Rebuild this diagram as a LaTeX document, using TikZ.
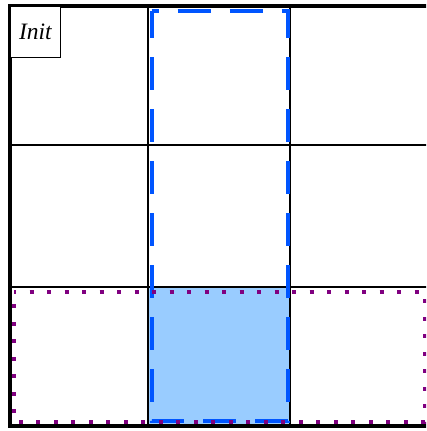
\documentclass[tikz,border=0pt]{standalone}
\usepackage{fontspec}
\setmainfont{Liberation Serif}
\begin{document}
\begin{tikzpicture}[x=1pt,y=-1pt,
  gridline/.style={line width=2.2pt,black},
  frameline/.style={line width=4pt,black},
  zonedash/.style={draw=zoneblue,line width=4pt,dash pattern=on 33pt off 19pt,dash phase=26pt},
  rowdots/.style={draw=rowpurple,line width=4pt,dash pattern=on 4pt off 13.5pt,dash phase=2pt},
  labelbox/.style={draw,line width=0.8pt,fill=white,inner sep=0pt,
    minimum width=50pt,minimum height=51pt,font=\fontsize{23.5}{26}\selectfont\itshape}]
\definecolor{zoneblue}{RGB}{0,85,255}
\definecolor{zonefill}{RGB}{153,204,255}
\definecolor{rowpurple}{RGB}{128,0,128}
\useasboundingbox (0,0) rectangle (426,431);
\fill[white] (0,0) rectangle (426,431);
\clip (0,0) rectangle (426,431);
% grid corners
\coordinate (g00) at (10,6);
\coordinate (g33) at (430,426);
% highlighted cell
\fill[zonefill] (148,287) rectangle (290,426);
% inner grid lines
\draw[gridline] (148,6) -- (148,426);
\draw[gridline] (290,6) -- (290,426);
\draw[gridline] (10,145) -- (430,145);
\draw[gridline] (10,287) -- (430,287);
% outer frame
\draw[frameline] (g00) rectangle (g33);
% middle column zone, traced clockwise from its top-left corner
\draw[zonedash] (151.5,11) -- (287.5,11) -- (287.5,421.3) -- (151.5,421.3) -- cycle;
% bottom row zone, traced clockwise from its top-left corner
\draw[rowdots] (14,291.5) -- (424.5,291.5) -- (424.5,422) -- (14,422) -- cycle;
% start label
\node[labelbox,anchor=north west] (init) at (g00) {Init};
\end{tikzpicture}
\end{document}
